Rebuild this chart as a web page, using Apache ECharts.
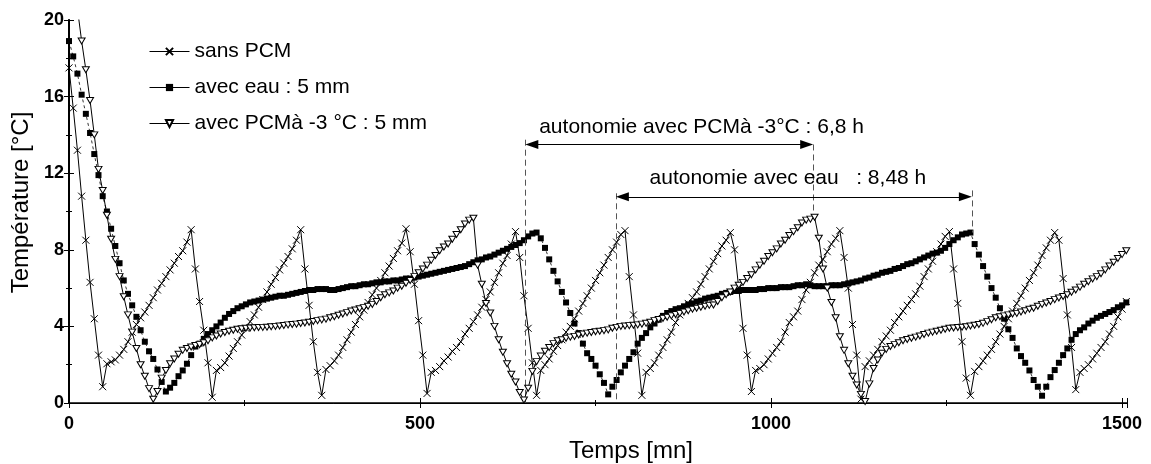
<!DOCTYPE html>
<html>
<head>
<meta charset="utf-8">
<script src="https://cdn.jsdelivr.net/npm/echarts@6.0.0/dist/echarts.min.js"></script>
<style>
html,body{margin:0;padding:0;background:#fff;}
#chart{width:1151px;height:464px;}
</style>
</head>
<body>
<div id="chart"></div>
<script>
// ---- data (temperature in °C, one sample every STEP minutes) ----
const STEP = 6;
const seriesNames = ['sans PCM', 'avec eau : 5 mm', 'avec PCMà -3 °C : 5 mm'];

const sansPCM = [
 17.5, 15.4, 13.2, 10.8, 8.5, 6.3, 4.4, 2.5, 0.85, 2.05,
 2.15, 2.25, 2.5, 2.8, 3.2, 3.7, 4.1, 4.45, 4.75, 5.1,
 5.5, 5.9, 6.25, 6.6, 6.95, 7.3, 7.65, 7.95, 8.4, 9.05,
 7.0, 5.3, 3.8, 2.1, 0.3, 1.7, 1.85, 2.1, 2.45, 2.85,
 3.2, 3.55, 3.9, 4.25, 4.6, 5.0, 5.4, 5.8, 6.2, 6.55,
 6.95, 7.3, 7.65, 8.05, 8.5, 9.05, 7.0, 5.1, 3.2, 1.6,
 0.4, 1.75, 1.95, 2.2, 2.5, 2.9, 3.3, 3.7, 4.1, 4.5,
 4.85, 5.25, 5.65, 6.0, 6.4, 6.8, 7.15, 7.55, 7.95, 8.35,
 9.1, 7.9, 6.2, 4.3, 2.5, 0.5, 1.6, 1.7, 1.9, 2.2,
 2.4, 2.7, 2.9, 3.2, 3.6, 3.9, 4.25, 4.6, 5.0, 5.4,
 5.8, 6.3, 6.8, 7.3, 7.7, 8.3, 8.95, 7.6, 5.6, 3.9,
 2.1, 0.4, 1.7, 2.0, 2.3, 2.7, 3.0, 3.3, 3.7, 4.0,
 4.4, 4.8, 5.2, 5.6, 6.0, 6.4, 6.8, 7.2, 7.6, 8.0,
 8.4, 8.8, 9.0, 6.6, 4.6, 2.6, 0.4, 1.6, 1.8, 2.1,
 2.5, 2.9, 3.3, 3.7, 4.2, 4.6, 4.9, 5.2, 5.5, 5.8,
 6.2, 6.6, 7.0, 7.4, 7.8, 8.2, 8.5, 8.9, 8.0, 6.0,
 3.9, 2.5, 0.6, 1.7, 1.8, 2.0, 2.3, 2.6, 2.9, 3.2,
 3.7, 4.2, 4.5, 4.8, 5.4, 5.9, 6.3, 6.8, 7.2, 7.5,
 7.9, 8.3, 8.6, 9.0, 7.6, 6.0, 4.1, 2.5, 0.2, 1.9,
 2.2, 2.5, 2.8, 3.2, 3.5, 3.8, 4.2, 4.5, 4.8, 5.1,
 5.4, 5.7, 6.1, 6.6, 7.0, 7.4, 7.9, 8.3, 8.7, 8.95,
 7.0, 5.2, 3.2, 1.3, 0.4, 1.65, 1.9, 2.2, 2.5, 2.8,
 3.2, 3.6, 4.0, 4.4, 4.8, 5.2, 5.6, 6.0, 6.4, 6.8,
 7.2, 7.7, 8.1, 8.5, 8.9, 8.5, 6.5, 4.6, 2.9, 0.7,
 1.6, 1.8, 2.0, 2.3, 2.6, 2.9, 3.2, 3.6, 4.0, 4.5,
 4.9, 5.3
];

const avecEau = [
 18.9, 18.1, 17.2, 16.1, 15.1, 14.1, 13.0, 11.9, 10.8, 10.0,
 9.1, 8.2, 7.3, 6.4, 5.7, 5.1, 4.5, 3.8, 3.2, 2.7,
 2.3, 1.75, 1.1, 0.6, 0.8, 1.05, 1.4, 1.7, 2.05, 2.5,
 2.95, 3.1, 3.35, 3.6, 3.8, 4.0, 4.2, 4.45, 4.65, 4.8,
 4.95, 5.05, 5.15, 5.25, 5.3, 5.35, 5.4, 5.45, 5.5, 5.55,
 5.6, 5.6, 5.65, 5.7, 5.75, 5.8, 5.85, 5.9, 5.9, 5.95,
 5.95, 5.95, 5.9, 5.9, 5.95, 6.0, 6.05, 6.1, 6.1, 6.15,
 6.2, 6.2, 6.25, 6.3, 6.3, 6.35, 6.35, 6.4, 6.4, 6.45,
 6.5, 6.5, 6.55, 6.6, 6.65, 6.7, 6.75, 6.8, 6.85, 6.9,
 6.95, 7.0, 7.05, 7.1, 7.15, 7.25, 7.35, 7.45, 7.5, 7.6,
 7.65, 7.75, 7.85, 7.95, 8.05, 8.15, 8.25, 8.35, 8.5, 8.7,
 8.85, 8.9, 8.6, 8.1, 7.5, 6.9, 6.35, 5.8, 5.25, 4.7,
 4.15, 3.65, 3.1, 2.6, 2.3, 1.95, 1.5, 1.05, 0.45, 0.85,
 1.2, 1.6, 1.95, 2.3, 2.65, 3.1, 3.4, 3.65, 3.95, 4.15,
 4.35, 4.55, 4.7, 4.8, 4.9, 4.95, 5.05, 5.15, 5.2, 5.3,
 5.35, 5.45, 5.5, 5.55, 5.6, 5.7, 5.75, 5.8, 5.85, 5.85,
 5.9, 5.9, 5.9, 5.9, 5.95, 5.95, 6.0, 6.0, 6.0, 6.05,
 6.05, 6.05, 6.1, 6.15, 6.15, 6.2, 6.15, 6.1, 6.1, 6.1,
 6.1, 6.15, 6.15, 6.15, 6.2, 6.25, 6.3, 6.35, 6.4, 6.5,
 6.55, 6.65, 6.7, 6.8, 6.85, 6.9, 7.0, 7.05, 7.15, 7.25,
 7.3, 7.4, 7.5, 7.6, 7.7, 7.8, 7.85, 7.95, 8.1, 8.3,
 8.5, 8.65, 8.8, 8.85, 8.9, 8.3, 7.75, 7.15, 6.6, 6.0,
 5.5, 4.95, 4.4, 3.85, 3.4, 2.85, 2.45, 2.1, 1.7, 1.2,
 0.85, 0.38, 0.85, 1.35, 1.72, 2.1, 2.5, 2.85, 3.3, 3.6,
 3.8, 3.95, 4.15, 4.3, 4.45, 4.55, 4.65, 4.75, 4.85, 5.0,
 5.1, 5.25
];

const avecPCM = [
 null, null, 20.6, 18.9, 17.4, 15.8, 14.0, 12.2, 11.1, 9.8,
 8.55, 7.5, 6.6, 5.55, 4.6, 3.7, 2.85, 2.0, 1.4, 0.75,
 0.2, 0.6, 1.3, 1.7, 2.05, 2.3, 2.55, 2.75, 2.85, 2.92,
 3.0, 3.05, 3.15, 3.25, 3.4, 3.5, 3.6, 3.68, 3.75, 3.8,
 3.85, 3.88, 3.9, 3.92, 3.93, 3.94, 3.95, 3.96, 3.98, 4.0,
 4.02, 4.05, 4.08, 4.1, 4.12, 4.15, 4.18, 4.22, 4.26, 4.3,
 4.34, 4.38, 4.45, 4.5, 4.58, 4.65, 4.72, 4.8, 4.86, 4.92,
 4.98, 5.05, 5.15, 5.3, 5.5, 5.65, 5.75, 5.85, 6.0, 6.1,
 6.25, 6.4, 6.6, 6.8, 7.0, 7.2, 7.45, 7.7, 7.95, 8.15,
 8.3, 8.55, 8.8, 9.05, 9.35, 9.55, 9.65, 7.2, 6.2, 5.2,
 4.7, 4.0, 3.3, 2.65, 2.05, 1.5, 1.1, 0.55, 0.16, 0.77,
 1.65, 2.16, 2.45, 2.7, 2.9, 3.1, 3.25, 3.3, 3.38, 3.44,
 3.48, 3.55, 3.6, 3.65, 3.68, 3.72, 3.75, 3.78, 3.82, 3.9,
 3.95, 4.0, 4.02, 4.04, 4.06, 4.08, 4.12, 4.16, 4.22, 4.3,
 4.36, 4.42, 4.48, 4.55, 4.62, 4.68, 4.75, 4.82, 4.9, 4.95,
 5.0, 5.05, 5.1, 5.12, 5.3, 5.5, 5.65, 5.8, 6.0, 6.15,
 6.3, 6.5, 6.7, 6.95, 7.2, 7.4, 7.65, 7.85, 8.05, 8.3,
 8.5, 8.75, 8.95, 9.15, 9.4, 9.55, 9.6, 9.7, 8.6, 7.0,
 6.0, 5.25, 4.45, 3.46, 2.75, 2.05, 1.4, 0.94, 0.45, 0.08,
 1.0, 1.8, 2.25, 2.6, 2.8, 2.95, 3.05, 3.15, 3.25, 3.32,
 3.38, 3.44, 3.5, 3.58, 3.65, 3.7, 3.75, 3.8, 3.85, 3.9,
 3.92, 3.94, 3.96, 3.98, 4.02, 4.06, 4.1, 4.16, 4.25, 4.35,
 4.45, 4.5, 4.55, 4.6, 4.65, 4.68, 4.75, 4.82, 4.9, 4.95,
 5.05, 5.15, 5.22, 5.3, 5.4, 5.48, 5.56, 5.65, 5.78, 5.9,
 6.05, 6.2, 6.33, 6.48, 6.6, 6.75, 6.95, 7.15, 7.35, 7.55,
 7.75, 7.95
];

// autonomy annotations (time in min, temperature in °C)
const arrowLines = [
  [[650, 13.5], [1060, 13.5]],
  [[779, 10.77], [1286, 10.77]]
];
const guideLines = [
  [[650, 13.75], [650, 0]],
  [[1060, 13.5], [1060, 9.7]],
  [[779, 10.95], [779, 0]],
  [[1286, 11.1], [1286, 8.9]]
];
const annotationTexts = ['autonomie avec PCMà -3°C : 6,8 h', 'autonomie avec eau   : 8,48 h'];
const annotationAnchors = [[901, 14.4], [1024, 11.75]];

const xTicks = { min: 0, max: 1507, interval: 500 };
const yTicks = { min: 0, max: 20, interval: 4 };
const xTitle = 'Temps [mn]';
const yTitle = 'Température [°C]';

// ---- chart ----
const FONT = '"Liberation Sans", Arial, sans-serif';
const W = 1151, GRID = { left: 69, top: 20, right: 24, bottom: 61 };
const toPairs = arr => arr.map((v, i) => [i * STEP, v]);
const CROSS = 'path://M0,0L10,10M10,0L0,10';
const ARROW = [9, 13];
// half arrow length expressed in minutes so that the arrow tip sits on the endpoint
const pxPerMin = (W - GRID.left - GRID.right) / (xTicks.max - xTicks.min);
const tipShift = (ARROW[1] / 2) / pxPerMin;

const chart = echarts.init(document.getElementById('chart'), null, { renderer: 'canvas' });

const axisCommon = {
  type: 'value',
  splitLine: { show: false },
  axisLine: { show: true, lineStyle: { color: '#000', width: 1.5 } },
  axisTick: { show: true, inside: true, length: 5, lineStyle: { color: '#000', width: 1 } },
  minorTick: { show: true, splitNumber: 2, length: 3, lineStyle: { color: '#000', width: 1 } }
};

const option = {
  animation: false,
  backgroundColor: '#fff',
  grid: Object.assign({ containLabel: false, outerBoundsMode: 'none' }, GRID),
  legend: {
    data: seriesNames,
    orient: 'vertical',
    left: 149,
    top: 41,
    padding: 0,
    itemWidth: 40,
    itemHeight: 9,
    itemGap: 15,
    lineStyle: { type: 'solid', width: 1 },
    textStyle: { fontFamily: FONT, fontSize: 21, color: '#000' },
    inactiveColor: '#000'
  },
  xAxis: [
    Object.assign({}, axisCommon, {
      position: 'bottom',
      min: xTicks.min, max: xTicks.max, interval: xTicks.interval,
      axisLabel: {
        margin: 12, color: '#000', fontFamily: FONT, fontWeight: 'bold', fontSize: 18,
        formatter: v => (v % xTicks.interval === 0 ? String(v) : '')
      },
      name: xTitle, nameLocation: 'middle', nameGap: 36,
      nameTextStyle: { fontFamily: FONT, fontSize: 24, color: '#000', padding: [0, 0, 0, 66] }
    }),
    Object.assign({}, axisCommon, {
      position: 'top',
      min: xTicks.min, max: xTicks.max, interval: xTicks.interval,
      axisLine: { show: true, lineStyle: { color: '#000', width: 1 } },
      axisLabel: { show: false }
    })
  ],
  yAxis: [
    Object.assign({}, axisCommon, {
      position: 'left',
      min: yTicks.min, max: yTicks.max, interval: yTicks.interval,
      axisLabel: { margin: 5, color: '#000', fontFamily: FONT, fontWeight: 'bold', fontSize: 18 },
      name: yTitle, nameLocation: 'middle', nameGap: 32, nameRotate: 90,
      nameTextStyle: { fontFamily: FONT, fontSize: 24, color: '#000', padding: [0, 0, 0, 18] }
    }),
    Object.assign({}, axisCommon, {
      position: 'right',
      min: yTicks.min, max: yTicks.max, interval: yTicks.interval,
      axisLine: { show: true, lineStyle: { color: '#000', width: 2 } },
      axisLabel: { show: false }
    })
  ],
  series: [
    {
      name: seriesNames[0], type: 'line', data: toPairs(sansPCM),
      symbol: CROSS, symbolSize: 7, showAllSymbol: true, z: 3,
      lineStyle: { color: '#000', width: 1 },
      itemStyle: { color: '#000', borderColor: '#000', borderWidth: 1 }
    },
    {
      name: seriesNames[1], type: 'line', data: toPairs(avecEau),
      symbol: 'rect', symbolSize: 6, showAllSymbol: true, z: 4,
      lineStyle: { color: '#000', width: 0.8, type: [3, 3] },
      itemStyle: { color: '#000', borderColor: '#000', borderWidth: 0 }
    },
    {
      name: seriesNames[2], type: 'line', data: toPairs(avecPCM), connectNulls: false,
      symbol: 'triangle', symbolRotate: 180, symbolSize: [7, 6], showAllSymbol: true, z: 5,
      lineStyle: { color: '#000', width: 1 },
      itemStyle: { color: '#fff', borderColor: '#000', borderWidth: 1 }
    },
    {
      name: 'guides', type: 'line', data: [], silent: true, z: 6,
      markLine: {
        silent: true, symbol: ['none', 'none'], animation: false,
        label: { show: false },
        lineStyle: { color: '#555', width: 1, type: [6, 4] },
        data: guideLines.map(([a, b]) => [{ coord: a }, { coord: b }])
      }
    },
    {
      name: 'arrows', type: 'line', data: [], silent: true, z: 7,
      markLine: {
        silent: true, symbol: ['triangle', 'triangle'], symbolSize: ARROW,
        animation: false, label: { show: false },
        lineStyle: { color: '#000', width: 1, type: 'solid' },
        data: arrowLines.map(([a, b]) => [
          { coord: [a[0] + tipShift, a[1]] },
          { coord: [b[0] - tipShift, b[1]] }
        ])
      }
    },
    {
      name: 'notes', type: 'scatter', silent: true, z: 8,
      symbolSize: 0,
      itemStyle: { opacity: 1 },
      data: annotationAnchors.map((p, i) => ({ value: p, text: annotationTexts[i] })),
      label: {
        show: true, position: 'inside', color: '#000', opacity: 1, fontFamily: FONT, fontSize: 21,
        textBorderWidth: 0, textBorderColor: 'transparent',
        formatter: p => p.data.text
      }
    }
  ]
};
chart.setOption(option);
</script>
</body>
</html>
